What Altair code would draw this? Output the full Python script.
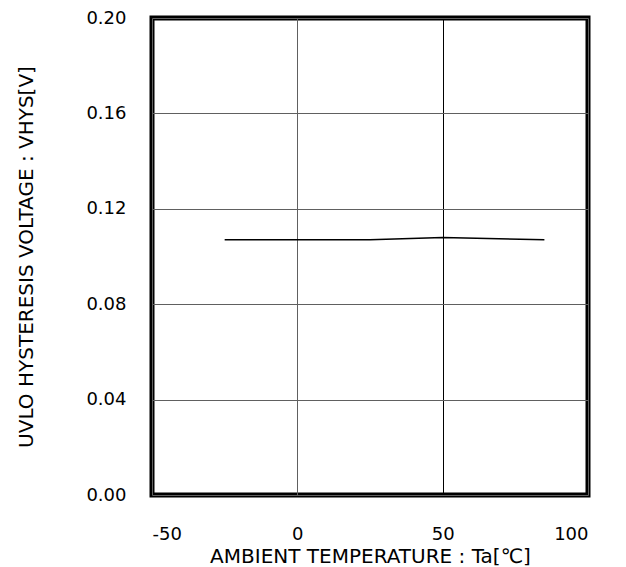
import altair as alt
import pandas as pd

temps = [-25, 0, 25, 50, 85]
vhys = [0.107, 0.107, 0.107, 0.108, 0.107]

x_ticks = [-50, 0, 50, 100]
y_ticks = [0.00, 0.04, 0.08, 0.12, 0.16, 0.20]

df = pd.DataFrame({"Ta": temps, "VHYS": vhys})

FONT = "DejaVu Sans"

chart = alt.Chart(df).mark_line(color="black", strokeWidth=1.5).encode(
    x=alt.X(
        "Ta:Q",
        scale=alt.Scale(domain=[-50, 100], nice=False, zero=False),
        axis=alt.Axis(
            values=x_ticks,
            title="AMBIENT TEMPERATURE : Ta[℃]",
            labelExpr="'' + datum.value",
            ticks=False,
            tickSize=0,
            domain=False,
            grid=True,
            gridColor={"condition": {"test": "datum.value === 50", "value": "black"}, "value": "#606060"},
            gridWidth=1,
            labelPadding=30,
            labelFontSize=18,
            labelFont=FONT,
            labelColor="black",
            titleFont=FONT,
            titleFontSize=20,
            titleFontWeight="normal",
            titleColor="black",
            titlePadding=3,
        ),
    ),
    y=alt.Y(
        "VHYS:Q",
        scale=alt.Scale(domain=[0, 0.2], nice=False, zero=True),
        axis=alt.Axis(
            values=y_ticks,
            title="UVLO HYSTERESIS VOLTAGE : VHYS[V]",
            format=".2f",
            ticks=False,
            tickSize=0,
            domain=False,
            grid=True,
            gridColor="#606060",
            gridWidth=1,
            labelPadding=26,
            labelFontSize=18,
            labelFont=FONT,
            labelColor="black",
            titleFont=FONT,
            titleFontSize=20,
            titleFontWeight="normal",
            titleColor="black",
            titlePadding=49,
        ),
    ),
).properties(
    width=436,
    height=477,
    autosize=alt.AutoSizeParams(type="none"),
    padding={"left": 144, "top": 10, "right": 30, "bottom": 72},
).configure(
    background="white",
    view=alt.ViewConfig(stroke="black", strokeWidth=5),
)

chart.save("out.html", embed_options={"renderer": "svg", "actions": False})
